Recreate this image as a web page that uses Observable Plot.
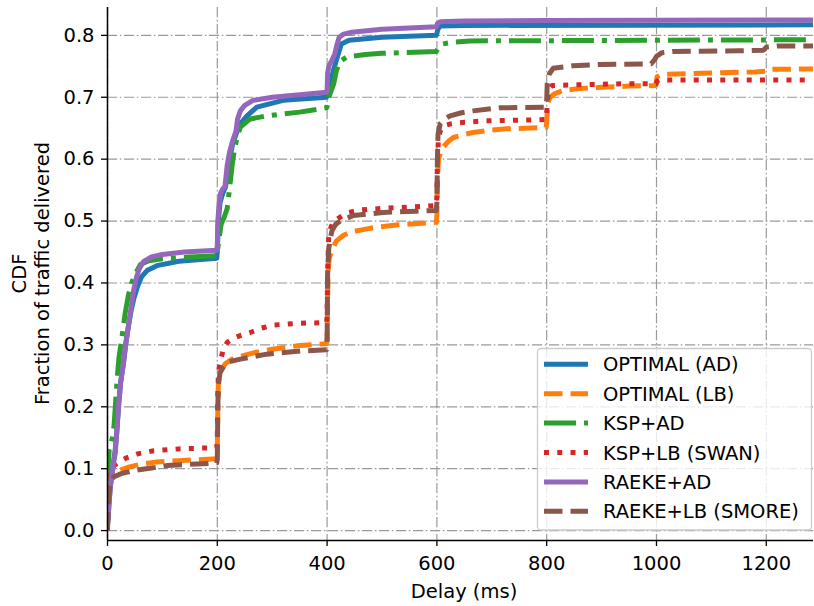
<!DOCTYPE html>
<html>
<head>
<meta charset="utf-8">
<script src="https://cdn.jsdelivr.net/npm/d3@7"></script>
<script src="https://cdn.jsdelivr.net/npm/@observablehq/plot@0.6"></script>
<style>
  html, body { margin: 0; padding: 0; background: #fff; }
  #chart { width: 814px; height: 606px; }
</style>
</head>
<body>
<div id="chart"></div>
<script>
// Legend labels, one per scheme, in drawing order
const seriesNames = ["OPTIMAL (AD)", "OPTIMAL (LB)", "KSP+AD", "KSP+LB (SWAN)", "RAEKE+AD", "RAEKE+LB (SMORE)"];

const xTicks = [0, 200, 400, 600, 800, 1000, 1200];
const yTicks = [0, 0.1, 0.2, 0.3, 0.4, 0.5, 0.6, 0.7, 0.8];

// OPTIMAL (AD)
const optimalAdDelay = [0, 1, 2.5, 5, 8, 11, 14, 17, 20, 24, 29, 33, 38, 43, 48, 55, 62, 72, 90, 130, 199,
  200, 202, 205, 210, 215, 220, 228, 236, 242, 254, 272, 320, 399,
  400, 404, 408, 412, 417, 421, 426, 440, 500, 599,
  602, 606, 650, 1300];
const optimalAdCdf = [0.01, 0.02, 0.04, 0.07, 0.09, 0.11, 0.13, 0.16, 0.2, 0.24, 0.27, 0.3, 0.33, 0.355, 0.375, 0.395, 0.41, 0.42, 0.428, 0.435, 0.44,
  0.45, 0.5, 0.53, 0.545, 0.555, 0.59, 0.625, 0.645, 0.657, 0.67, 0.684, 0.695, 0.7,
  0.702, 0.71, 0.73, 0.745, 0.76, 0.772, 0.786, 0.792, 0.797, 0.8,
  0.81, 0.815, 0.816, 0.817];

// OPTIMAL (LB)
const optimalLbDelay = [0, 1, 2, 4, 8, 15, 25, 40, 60, 90, 130, 199,
  200, 201, 202, 204, 209, 215, 225, 245, 270, 300, 350, 399,
  400, 401, 402, 404, 408, 417, 430, 442, 470, 490, 530, 599,
  600, 601, 603, 607, 612, 620, 630, 650, 666, 700, 727, 799,
  800, 802, 806, 815, 830, 860, 900, 950, 999,
  1001, 1010, 1100, 1180, 1199, 1203, 1300];
const optimalLbCdf = [0.02, 0.05, 0.07, 0.08, 0.087, 0.093, 0.098, 0.103, 0.107, 0.111, 0.113, 0.116,
  0.13, 0.2, 0.24, 0.255, 0.262, 0.27, 0.276, 0.282, 0.288, 0.293, 0.299, 0.302,
  0.31, 0.38, 0.42, 0.44, 0.452, 0.468, 0.477, 0.482, 0.487, 0.49, 0.494, 0.498,
  0.51, 0.57, 0.6, 0.612, 0.62, 0.628, 0.635, 0.64, 0.643, 0.647, 0.649, 0.651,
  0.66, 0.69, 0.7, 0.706, 0.711, 0.714, 0.716, 0.718, 0.719,
  0.733, 0.737, 0.739, 0.741, 0.742, 0.745, 0.746];

// KSP+AD
const kspAdDelay = [0, 1, 3, 6, 9, 12, 15, 18, 21, 26, 32, 38, 44, 51, 60, 75, 100, 150, 199,
  200, 203, 207, 212, 218, 222, 227, 231, 236, 242, 260, 290, 350, 399,
  400, 403, 408, 412, 417, 423, 435, 470, 500, 599,
  603, 610, 630, 660, 1300];
const kspAdCdf = [0.08, 0.1, 0.13, 0.14, 0.15, 0.17, 0.21, 0.25, 0.28, 0.31, 0.35, 0.38, 0.4, 0.415, 0.43, 0.436, 0.439, 0.442, 0.444,
  0.45, 0.47, 0.495, 0.505, 0.52, 0.55, 0.59, 0.615, 0.635, 0.652, 0.665, 0.67, 0.676, 0.683,
  0.685, 0.7, 0.712, 0.722, 0.743, 0.757, 0.765, 0.769, 0.771, 0.774,
  0.78, 0.786, 0.789, 0.791, 0.793];

// KSP+LB (SWAN)
const kspLbDelay = [0, 1, 2, 4, 8, 15, 25, 36, 55, 84, 130, 199,
  200, 201, 202, 205, 210, 218, 230, 242, 260, 280, 302, 350, 399,
  400, 401, 403, 407, 412, 418, 430, 440, 460, 510, 580, 599,
  600, 601, 603, 606, 612, 625, 642, 690, 760, 799,
  800, 802, 805, 810, 850, 950, 999,
  1001, 1005, 1300];
const kspLbCdf = [0.02, 0.06, 0.085, 0.097, 0.102, 0.107, 0.113, 0.118, 0.124, 0.129, 0.132, 0.134,
  0.15, 0.22, 0.255, 0.27, 0.29, 0.304, 0.311, 0.315, 0.32, 0.327, 0.332, 0.335, 0.336,
  0.345, 0.42, 0.475, 0.49, 0.5, 0.503, 0.51, 0.514, 0.518, 0.521, 0.524, 0.525,
  0.54, 0.6, 0.635, 0.645, 0.654, 0.657, 0.659, 0.662, 0.663, 0.664,
  0.675, 0.7, 0.714, 0.719, 0.72, 0.722, 0.722,
  0.726, 0.728, 0.728];

// RAEKE+AD
const raekeAdDelay = [0, 1, 2.5, 5, 8, 11, 14, 17, 20, 24, 29, 33, 38, 43, 48, 53, 58, 66, 80, 100, 140, 199,
  200, 201, 203, 206, 210, 214, 218, 222, 228, 234, 237, 242, 250, 265, 300, 350, 399,
  400, 401, 404, 409, 414, 418, 422, 430, 445, 500, 599,
  601, 606, 650, 800, 1300];
const raekeAdCdf = [0.01, 0.02, 0.04, 0.07, 0.09, 0.11, 0.125, 0.16, 0.2, 0.24, 0.27, 0.3, 0.33, 0.36, 0.39, 0.41, 0.423, 0.435, 0.442, 0.446, 0.45, 0.453,
  0.46, 0.5, 0.525, 0.545, 0.552, 0.556, 0.59, 0.61, 0.63, 0.645, 0.665, 0.678, 0.687, 0.695, 0.7, 0.704, 0.708,
  0.71, 0.74, 0.752, 0.76, 0.77, 0.785, 0.797, 0.802, 0.805, 0.81, 0.814,
  0.819, 0.822, 0.823, 0.824, 0.825];

// RAEKE+LB (SMORE)
const raekeLbDelay = [0, 1, 2, 4, 7, 12, 25, 48, 80, 108, 150, 199,
  200, 201, 202, 205, 210, 218, 242, 290, 351, 399,
  400, 401, 403, 406, 409, 416, 424, 448, 502, 563, 599,
  600, 601, 602, 606, 615, 624, 645, 666, 715, 799,
  800, 801, 805, 812, 830, 848, 900, 990,
  996, 1000, 1010, 1030, 1150, 1195, 1200, 1220, 1300];
const raekeLbCdf = [0.0, 0.03, 0.05, 0.07, 0.082, 0.087, 0.092, 0.097, 0.101, 0.105, 0.107, 0.109,
  0.115, 0.2, 0.235, 0.255, 0.263, 0.272, 0.277, 0.285, 0.29, 0.292,
  0.3, 0.42, 0.455, 0.472, 0.485, 0.495, 0.5, 0.509, 0.514, 0.516, 0.517,
  0.53, 0.6, 0.64, 0.657, 0.665, 0.67, 0.675, 0.678, 0.683, 0.684,
  0.695, 0.722, 0.738, 0.747, 0.749, 0.751, 0.753, 0.754,
  0.76, 0.766, 0.772, 0.774, 0.775, 0.776, 0.781, 0.783, 0.783];

const seriesDelay = [optimalAdDelay, optimalLbDelay, kspAdDelay, kspLbDelay, raekeAdDelay, raekeLbDelay];
const seriesCdf = [optimalAdCdf, optimalLbCdf, kspAdCdf, kspLbCdf, raekeAdCdf, raekeLbCdf];

// Line styles (tab10 palette, matplotlib-like dash patterns at 5px width)
const lineStyles = [
  {color: "#1f77b4", dash: null},
  {color: "#ff7f0e", dash: "18.5,8"},
  {color: "#2ca02c", dash: "32,8,5,8"},
  {color: "#d62728", dash: "5,8.25"},
  {color: "#9467bd", dash: null},
  {color: "#8c564b", dash: "18.5,8"}
];

const rowsFor = (i) => seriesDelay[i].map((d, j) => ({delay: d, cdf: seriesCdf[i][j], scheme: seriesNames[i]}));

const W = 814, H = 606;
const xDomain = [0, 1286];
const yDomain = [-0.016, 0.845];
const gridStyle = {stroke: "#9a9a9a", strokeOpacity: 1, strokeWidth: 1.2, strokeDasharray: "10.2,2.6,1.6,2.6"};
const fontSize = 19.5;

const lineMarks = seriesNames.map((name, i) => {
  const opts = {
    x: "delay", y: "cdf",
    stroke: lineStyles[i].color,
    strokeWidth: 5,
    strokeLinejoin: "round",
    strokeLinecap: "butt",
    clip: true
  };
  if (lineStyles[i].dash) opts.strokeDasharray = lineStyles[i].dash;
  return Plot.line(rowsFor(i), opts);
});

const chart = Plot.plot({
  width: W,
  height: H,
  marginLeft: 107,
  marginRight: 1,
  marginTop: 7,
  marginBottom: 66,
  style: {fontFamily: "DejaVu Sans", fontSize: fontSize + "px", color: "black", background: "white"},
  x: {domain: xDomain},
  y: {domain: yDomain},
  marks: [
    Plot.gridX(xTicks, gridStyle),
    Plot.gridY(yTicks, gridStyle),
    ...lineMarks,
    Plot.ruleX([xDomain[0]], {stroke: "black", strokeWidth: 1.5}),
    Plot.ruleY([yDomain[0]], {stroke: "black", strokeWidth: 1.5}),
    Plot.axisX(xTicks, {tickSize: 6, tickPadding: 10, strokeWidth: 1.3, fontSize, label: null, tickFormat: d3.format("d")}),
    Plot.axisY(yTicks, {tickSize: 6, tickPadding: 7, strokeWidth: 1.3, fontSize, label: null, tickFormat: d3.format(".1f")})
  ]
});

document.getElementById("chart").appendChild(chart);

// Axis titles and legend drawn on top of the plot
const svg = d3.select(chart);
const mT = 7, mB = 66;
const frameCy = (mT + (H - mB)) / 2;

svg.append("text")
  .attr("x", 464).attr("y", 598)
  .attr("text-anchor", "middle")
  .attr("font-size", fontSize).attr("fill", "black")
  .text("Delay (ms)");

svg.append("text")
  .attr("transform", `translate(19,${frameCy}) rotate(-90)`)
  .attr("text-anchor", "middle").attr("dominant-baseline", "central")
  .attr("font-size", fontSize).attr("fill", "black")
  .text("CDF");

svg.append("text")
  .attr("transform", `translate(42,${frameCy}) rotate(-90)`)
  .attr("text-anchor", "middle").attr("dominant-baseline", "central")
  .attr("font-size", fontSize).attr("fill", "black")
  .text("Fraction of traffic delivered");

const legend = svg.append("g");
legend.append("rect")
  .attr("x", 537.5).attr("y", 348.5)
  .attr("width", 274).attr("height", 181.5)
  .attr("rx", 3.5)
  .attr("fill", "white").attr("fill-opacity", 0.8)
  .attr("stroke", "#cccccc").attr("stroke-width", 1.3);

seriesNames.forEach((name, i) => {
  const cy = 364.3 + i * 29.4;
  const ln = legend.append("line")
    .attr("x1", 544).attr("x2", 588)
    .attr("y1", cy).attr("y2", cy)
    .attr("stroke", lineStyles[i].color)
    .attr("stroke-width", 5)
    .attr("stroke-linecap", "butt");
  if (lineStyles[i].dash) ln.attr("stroke-dasharray", lineStyles[i].dash);
  legend.append("text")
    .attr("x", 603).attr("y", cy + 7)
    .attr("text-anchor", "start")
    .attr("font-size", fontSize).attr("fill", "black")
    .text(name);
});
</script>
</body>
</html>
